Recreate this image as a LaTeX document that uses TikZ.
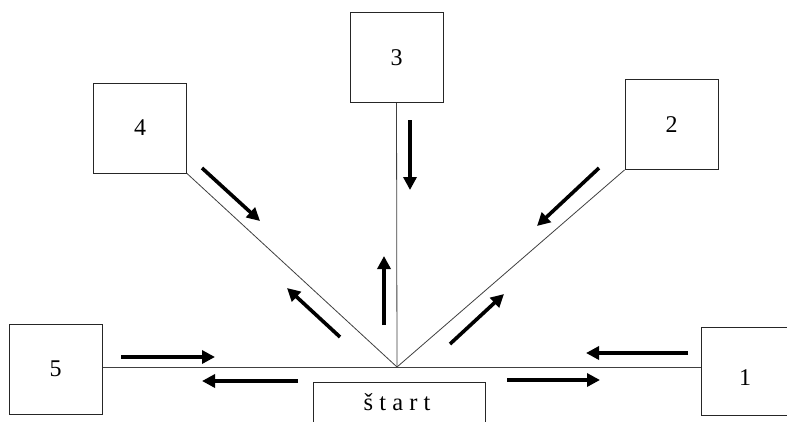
\documentclass[tikz,border=0pt]{standalone}
\usepackage{fontspec}
\setmainfont{Liberation Serif}
\usetikzlibrary{arrows.meta}
\tikzset{
  box/.style={draw=black!85, line width=1pt, minimum width=93pt, minimum height=90pt, inner sep=0pt, font=\fontsize{24}{24}\selectfont},
  link/.style={draw=black!75, line width=0.8pt},
  flow/.style={line width=3.6pt, -{Triangle[length=13pt,width=13pt]}, shorten <=0pt},
  lbl/.style={font=\fontsize{24.5}{24.5}\selectfont, inner sep=0pt}
}
\begin{document}
\begin{tikzpicture}[x=1pt,y=-1pt]
\clip (0,0) rectangle (787,421);
\fill[white] (0,0) rectangle (787,421);
% boxes
\node[box] (b5) at (55.5,369) {5};
\node[box] (b4) at (140,128) {4};
\node[box] (b3) at (396.5,57.5) {3};
\node[box] (b2) at (671.5,124.5) {2};
\node[box, minimum height=88pt] (b1) at (747.5,371) {};
\node[font=\fontsize{24}{24}\selectfont] (l1) at (745,378) {1};
\node[box, minimum width=172pt, minimum height=60pt, anchor=north] (start) at (399,382) {};
\node[lbl] (st) at (397,402) {š t a r t};
\coordinate (c) at (397,367);
% connectors
\draw[link] (c -| b5.east) -- (c -| b1.west);
\draw[link] (b3.south) -- (c);
\draw[link] (b4.south east) -- (c);
\draw[link] (b2.south west) -- (c);
% arrows
\draw[flow] (121,357) -- (215,357);
\draw[flow] (298,381) -- (202,381);
\draw[flow] (688,353) -- (586,353);
\draw[flow] (507,380) -- (600,380);
\draw[flow] (410,120) -- (410,190);
\draw[flow] (384,325) -- (384,256);
\draw[flow] (202,168) -- (260,221);
\draw[flow] (340,337) -- (287,288);
\draw[flow] (599,168) -- (537,226);
\draw[flow] (450,344) -- (504,294);
\end{tikzpicture}
\end{document}
